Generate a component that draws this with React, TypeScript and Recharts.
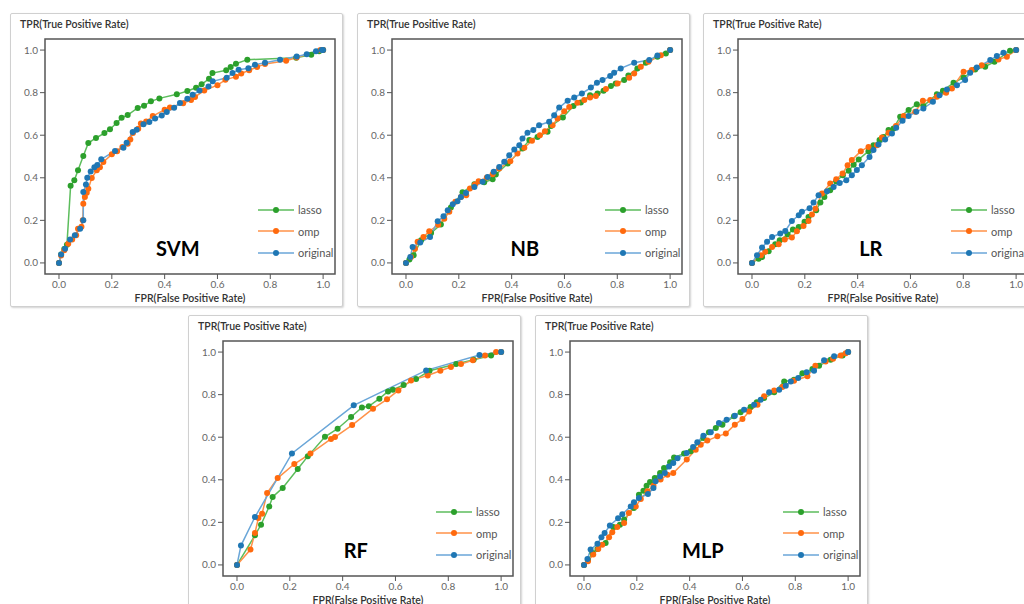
import { LineChart, Line, XAxis, YAxis, ReferenceArea, ReferenceDot, Legend } from "recharts";

type Pt = [number, number];

const FONT = "Lato, 'Noto Sans', sans-serif";

const ticks = [0, 0.2, 0.4, 0.6, 0.8, 1.0];
const seriesNames = ["lasso", "omp", "original"];
const dotColors: Record<string, string> = { lasso: "#2ca02c", omp: "#ff6a0e", original: "#1f77b4" };
const lineColors: Record<string, string> = { lasso: "#5cbd5c", omp: "#ff9248", original: "#6aa6d8" };

// ---- SVM ----
const svmLasso: Pt[] = [
  [0, 0], [0.008, 0.04], [0.02, 0.065], [0.03, 0.085], [0.044, 0.363], [0.058, 0.388], [0.072, 0.435],
  [0.092, 0.502], [0.111, 0.563], [0.14, 0.587], [0.172, 0.61], [0.193, 0.628], [0.218, 0.657], [0.237, 0.682],
  [0.26, 0.695], [0.298, 0.728], [0.322, 0.739], [0.348, 0.759], [0.38, 0.773], [0.446, 0.792], [0.486, 0.808],
  [0.519, 0.823], [0.54, 0.839], [0.568, 0.865], [0.581, 0.892], [0.633, 0.905], [0.65, 0.92], [0.67, 0.936],
  [0.713, 0.955], [0.898, 0.964], [0.955, 0.978], [0.985, 0.995], [1, 1],
];
const svmOmp: Pt[] = [
  [0, 0], [0.008, 0.035], [0.02, 0.06], [0.035, 0.09], [0.05, 0.11], [0.065, 0.13], [0.072, 0.16], [0.085, 0.17],
  [0.09, 0.2], [0.092, 0.278], [0.098, 0.31], [0.105, 0.33], [0.111, 0.349], [0.124, 0.399], [0.143, 0.435],
  [0.155, 0.45], [0.168, 0.474], [0.2, 0.51], [0.22, 0.525], [0.24, 0.545], [0.26, 0.56], [0.27, 0.58], [0.28, 0.61],
  [0.3, 0.63], [0.31, 0.655], [0.33, 0.665], [0.355, 0.69], [0.4, 0.72], [0.42, 0.73], [0.47, 0.75], [0.5, 0.765],
  [0.515, 0.78], [0.55, 0.81], [0.6, 0.835], [0.63, 0.86], [0.67, 0.875], [0.69, 0.89], [0.72, 0.905], [0.75, 0.92],
  [0.78, 0.935], [0.86, 0.95], [0.9, 0.965], [0.99, 1.0], [1, 1],
];
const svmOriginal: Pt[] = [
  [0, 0], [0.008, 0.04], [0.023, 0.067], [0.042, 0.11], [0.06, 0.13], [0.08, 0.16], [0.092, 0.2], [0.092, 0.333],
  [0.102, 0.368], [0.107, 0.4], [0.12, 0.43], [0.134, 0.45], [0.145, 0.46], [0.16, 0.487], [0.212, 0.526],
  [0.244, 0.541], [0.256, 0.565], [0.279, 0.615], [0.294, 0.626], [0.32, 0.651], [0.342, 0.662], [0.364, 0.678],
  [0.389, 0.693], [0.408, 0.709], [0.436, 0.729], [0.458, 0.751], [0.486, 0.771], [0.506, 0.79], [0.532, 0.81],
  [0.566, 0.829], [0.582, 0.853], [0.635, 0.87], [0.657, 0.892], [0.68, 0.908], [0.717, 0.915], [0.742, 0.931],
  [0.78, 0.94], [0.837, 0.955], [0.9, 0.97], [0.938, 0.98], [0.973, 0.995], [0.995, 1], [1, 1],
];

// ---- NB ----
const nbLasso: Pt[] = [
  [0, 0], [0.013, 0.016], [0.029, 0.036], [0.057, 0.107], [0.095, 0.141], [0.132, 0.18], [0.17, 0.26],
  [0.214, 0.332], [0.259, 0.37], [0.296, 0.379], [0.328, 0.393], [0.34, 0.415], [0.385, 0.467], [0.441, 0.538],
  [0.467, 0.577], [0.498, 0.592], [0.536, 0.616], [0.549, 0.643], [0.594, 0.683], [0.634, 0.737], [0.662, 0.754],
  [0.697, 0.788], [0.725, 0.796], [0.748, 0.809], [0.776, 0.831], [0.794, 0.843], [0.826, 0.859], [0.842, 0.881],
  [0.876, 0.914], [0.908, 0.94], [0.952, 0.969], [0.984, 0.984], [1, 1],
];
const nbOmp: Pt[] = [
  [0, 0], [0.019, 0.028], [0.034, 0.067], [0.044, 0.099], [0.066, 0.122], [0.088, 0.149], [0.122, 0.179],
  [0.145, 0.208], [0.164, 0.241], [0.187, 0.287], [0.208, 0.31], [0.228, 0.318], [0.242, 0.35], [0.261, 0.368],
  [0.275, 0.384], [0.306, 0.401], [0.328, 0.417], [0.353, 0.444], [0.395, 0.478], [0.422, 0.514], [0.448, 0.541],
  [0.477, 0.574], [0.507, 0.6], [0.526, 0.619], [0.555, 0.647], [0.574, 0.679], [0.599, 0.713], [0.618, 0.733],
  [0.649, 0.752], [0.675, 0.765], [0.697, 0.777], [0.719, 0.784], [0.757, 0.817], [0.801, 0.843], [0.845, 0.87],
  [0.864, 0.89], [0.889, 0.922], [0.918, 0.945], [0.965, 0.976], [1, 1],
];
const nbOriginal: Pt[] = [
  [0, 0], [0.016, 0.028], [0.025, 0.075], [0.054, 0.096], [0.091, 0.122], [0.12, 0.196], [0.142, 0.219],
  [0.158, 0.248], [0.177, 0.276], [0.195, 0.29], [0.208, 0.31], [0.227, 0.329], [0.259, 0.357], [0.29, 0.381],
  [0.309, 0.404], [0.332, 0.428], [0.353, 0.451], [0.372, 0.475], [0.391, 0.506], [0.41, 0.533], [0.429, 0.553],
  [0.441, 0.585], [0.46, 0.611], [0.482, 0.624], [0.504, 0.647], [0.542, 0.663], [0.561, 0.694], [0.58, 0.73],
  [0.612, 0.762], [0.637, 0.777], [0.666, 0.796], [0.7, 0.824], [0.723, 0.846], [0.744, 0.859], [0.773, 0.878],
  [0.788, 0.893], [0.813, 0.914], [0.864, 0.94], [0.921, 0.953], [0.952, 0.975], [1, 1],
];

// ---- LR ----
const lrLasso: Pt[] = [
  [0, 0], [0.025, 0.02], [0.038, 0.028], [0.063, 0.055], [0.088, 0.088], [0.105, 0.107], [0.135, 0.133],
  [0.155, 0.157], [0.177, 0.169], [0.199, 0.193], [0.214, 0.216], [0.243, 0.248], [0.259, 0.284], [0.274, 0.31],
  [0.296, 0.342], [0.319, 0.384], [0.344, 0.412], [0.366, 0.433], [0.385, 0.461], [0.404, 0.486], [0.441, 0.525],
  [0.46, 0.553], [0.483, 0.577], [0.498, 0.592], [0.517, 0.624], [0.536, 0.632], [0.561, 0.687], [0.593, 0.718],
  [0.624, 0.746], [0.649, 0.737], [0.7, 0.793], [0.723, 0.809], [0.763, 0.846], [0.801, 0.871], [0.845, 0.909],
  [0.883, 0.922], [0.918, 0.945], [0.977, 0.997], [1, 1],
];
const lrOmp: Pt[] = [
  [0, 0], [0.034, 0.036], [0.05, 0.052], [0.076, 0.075], [0.101, 0.088], [0.124, 0.11], [0.151, 0.119],
  [0.17, 0.149], [0.195, 0.174], [0.214, 0.197], [0.227, 0.227], [0.24, 0.255], [0.265, 0.326], [0.296, 0.373],
  [0.319, 0.393], [0.343, 0.42], [0.362, 0.459], [0.378, 0.483], [0.412, 0.525], [0.441, 0.545], [0.473, 0.553],
  [0.492, 0.589], [0.517, 0.611], [0.545, 0.643], [0.574, 0.69], [0.618, 0.71], [0.647, 0.762], [0.675, 0.765],
  [0.7, 0.781], [0.735, 0.799], [0.757, 0.82], [0.801, 0.898], [0.832, 0.906], [0.87, 0.929], [0.933, 0.956],
  [0.965, 0.969], [1, 1],
];
const lrOriginal: Pt[] = [
  [0, 0], [0.019, 0.036], [0.038, 0.072], [0.057, 0.099], [0.076, 0.122], [0.107, 0.138], [0.126, 0.15],
  [0.151, 0.197], [0.177, 0.224], [0.189, 0.24], [0.218, 0.257], [0.233, 0.284], [0.252, 0.318], [0.284, 0.337],
  [0.309, 0.357], [0.332, 0.376], [0.357, 0.389], [0.378, 0.412], [0.397, 0.436], [0.416, 0.459], [0.445, 0.498],
  [0.46, 0.53], [0.479, 0.556], [0.504, 0.58], [0.53, 0.608], [0.546, 0.635], [0.57, 0.668], [0.593, 0.69],
  [0.622, 0.71], [0.649, 0.726], [0.685, 0.757], [0.71, 0.788], [0.738, 0.815], [0.776, 0.835], [0.807, 0.859],
  [0.826, 0.893], [0.851, 0.918], [0.902, 0.953], [0.927, 0.972], [0.952, 0.987], [1, 1],
];

// ---- RF ----
const rfLasso: Pt[] = [
  [0, 0], [0.068, 0.139], [0.091, 0.189], [0.122, 0.275], [0.135, 0.319], [0.173, 0.362], [0.23, 0.451],
  [0.268, 0.51], [0.333, 0.602], [0.381, 0.64], [0.432, 0.695], [0.473, 0.74], [0.499, 0.745], [0.539, 0.781],
  [0.572, 0.815], [0.59, 0.823], [0.631, 0.845], [0.678, 0.873], [0.729, 0.912], [0.83, 0.944], [0.896, 0.964],
  [0.962, 0.984], [1, 1],
];
const rfOmp: Pt[] = [
  [0, 0], [0.051, 0.072], [0.068, 0.15], [0.081, 0.22], [0.095, 0.241], [0.114, 0.338], [0.154, 0.408],
  [0.217, 0.474], [0.278, 0.523], [0.356, 0.592], [0.371, 0.601], [0.436, 0.657], [0.515, 0.734], [0.568, 0.778],
  [0.611, 0.82], [0.659, 0.867], [0.722, 0.89], [0.77, 0.912], [0.81, 0.93], [0.848, 0.944], [0.893, 0.961],
  [0.939, 0.984], [0.981, 1.0], [1, 1],
];
const rfOriginal: Pt[] = [
  [0, 0], [0.015, 0.091], [0.068, 0.225], [0.208, 0.524], [0.442, 0.75], [0.716, 0.914], [0.918, 0.986], [1, 1],
];

// ---- MLP ----
const mlpLasso: Pt[] = [
  [0, 0], [0.015, 0.022], [0.032, 0.056], [0.051, 0.075], [0.082, 0.103], [0.111, 0.178], [0.136, 0.189],
  [0.152, 0.213], [0.189, 0.268], [0.208, 0.33], [0.225, 0.349], [0.237, 0.372], [0.25, 0.39], [0.268, 0.408],
  [0.288, 0.432], [0.303, 0.455], [0.326, 0.482], [0.341, 0.505], [0.379, 0.523], [0.404, 0.534], [0.452, 0.596],
  [0.473, 0.623], [0.499, 0.643], [0.524, 0.659], [0.568, 0.698], [0.593, 0.717], [0.631, 0.742], [0.654, 0.764],
  [0.682, 0.784], [0.72, 0.811], [0.758, 0.862], [0.795, 0.87], [0.827, 0.901], [0.865, 0.92], [0.89, 0.936],
  [0.934, 0.964], [0.979, 0.984], [1, 1],
];
const mlpOmp: Pt[] = [
  [0, 0], [0.015, 0.017], [0.035, 0.049], [0.054, 0.075], [0.069, 0.095], [0.095, 0.13], [0.107, 0.153],
  [0.126, 0.178], [0.152, 0.197], [0.17, 0.244], [0.196, 0.275], [0.215, 0.31], [0.24, 0.346], [0.263, 0.372],
  [0.29, 0.401], [0.316, 0.424], [0.338, 0.432], [0.389, 0.495], [0.423, 0.541], [0.442, 0.565], [0.467, 0.584],
  [0.505, 0.604], [0.537, 0.617], [0.571, 0.659], [0.6, 0.685], [0.625, 0.721], [0.657, 0.753], [0.682, 0.792],
  [0.72, 0.82], [0.751, 0.836], [0.795, 0.865], [0.846, 0.886], [0.876, 0.936], [0.915, 0.956], [0.943, 0.969],
  [0.972, 0.984], [0.991, 0.995], [1, 1],
];
const mlpOriginal: Pt[] = [
  [0, 0], [0.013, 0.028], [0.025, 0.072], [0.051, 0.099], [0.066, 0.13], [0.078, 0.15], [0.098, 0.185],
  [0.129, 0.219], [0.145, 0.238], [0.177, 0.275], [0.189, 0.294], [0.208, 0.315], [0.242, 0.333], [0.263, 0.361],
  [0.271, 0.393], [0.288, 0.416], [0.306, 0.432], [0.322, 0.463], [0.338, 0.479], [0.354, 0.501], [0.389, 0.526],
  [0.413, 0.554], [0.429, 0.576], [0.452, 0.607], [0.48, 0.623], [0.511, 0.667], [0.54, 0.682], [0.571, 0.701],
  [0.606, 0.729], [0.644, 0.753], [0.669, 0.776], [0.701, 0.811], [0.739, 0.823], [0.764, 0.842], [0.783, 0.862],
  [0.811, 0.878], [0.843, 0.905], [0.871, 0.912], [0.909, 0.961], [0.947, 0.98], [1, 1],
];

const toRows = (pts: Pt[]) => pts.map(([fpr, tpr]) => ({ fpr, tpr }));
const fmt = (v: number) => v.toFixed(1);

const renderLegend = () => (
  <div style={{ fontFamily: FONT }}>
    {seriesNames.map((name) => (
      <div key={name} style={{ display: "flex", alignItems: "center", height: 21.5 }}>
        <svg width={36} height={8}>
          <line x1={0} y1={4} x2={36} y2={4} stroke={lineColors[name]} strokeWidth={1.5} />
          <circle cx={18} cy={4} r={3} fill={dotColors[name]} />
        </svg>
        <span style={{ marginLeft: 4, fontSize: 11, color: "#555" }}>{name}</span>
      </div>
    ))}
  </div>
);

type PanelProps = {
  title: string;
  curves: Record<string, Pt[]>;
  left: number;
  top: number;
};

function RocPanel({ title, curves, left, top }: PanelProps) {
  return (
    <div
      style={{
        position: "absolute",
        left,
        top,
        width: 331,
        height: 292,
        border: "1px solid #d0d0d0",
        boxShadow: "1px 1px 2px rgba(0,0,0,0.18)",
        borderRadius: 2,
        background: "#fff",
        fontFamily: FONT,
      }}
    >
      <div style={{ position: "absolute", left: 9, top: 4, fontSize: 10.5, fontWeight: 600, color: "#333" }}>
        TPR(True Positive Rate)
      </div>
      <LineChart width={331} height={292} margin={{ top: 25, right: 7, bottom: 0, left: 5 }}>
        <XAxis
          type="number"
          dataKey="fpr"
          domain={[-0.053, 1.045]}
          ticks={ticks}
          allowDataOverflow
          tickFormatter={fmt}
          axisLine={false}
          tickLine={{ stroke: "#555" }}
          tickSize={5}
          tick={{ fill: "#666", fontSize: 10, fontFamily: FONT }}
          height={32}
          label={{
            value: "FPR(False Positive Rate)",
            position: "insideBottom",
            offset: 4,
            fill: "#333",
            fontSize: 10.5,
            fontWeight: 600,
            fontFamily: FONT,
          }}
        />
        <YAxis
          type="number"
          domain={[-0.052, 1.052]}
          ticks={ticks}
          allowDataOverflow
          tickFormatter={fmt}
          axisLine={false}
          tickLine={{ stroke: "#555" }}
          tickSize={5}
          tick={{ fill: "#666", fontSize: 10, fontFamily: FONT }}
          width={29}
        />
        <ReferenceArea
          x1={-0.053}
          x2={1.045}
          y1={-0.052}
          y2={1.052}
          fill="none"
          stroke="#555"
          strokeWidth={1.5}
          fillOpacity={0}
        />
        {seriesNames.map((name) => (
          <Line
            key={name}
            data={toRows(curves[name])}
            dataKey="tpr"
            name={name}
            type="linear"
            stroke={lineColors[name]}
            strokeWidth={1.5}
            dot={{ r: 3, fill: dotColors[name], stroke: "none" }}
            isAnimationActive={false}
          />
        ))}
        <ReferenceDot
          x={0.45}
          y={0.065}
          r={0}
          fill="none"
          stroke="none"
          label={{ value: title, position: "center", fontSize: 20, fontWeight: 700, fill: "#000", fontFamily: FONT }}
        />
        <Legend
          layout="vertical"
          align="center"
          verticalAlign="middle"
          wrapperStyle={{ left: 247, top: 185, width: 84 }}
          content={renderLegend}
        />
      </LineChart>
    </div>
  );
}

export default function App() {
  return (
    <div
      style={{
        position: "fixed",
        left: 0,
        top: 0,
        width: 1024,
        height: 604,
        background: "#fff",
        overflow: "hidden",
      }}
    >
      <RocPanel title="SVM" curves={{ lasso: svmLasso, omp: svmOmp, original: svmOriginal }} left={10} top={13} />
      <RocPanel title="NB" curves={{ lasso: nbLasso, omp: nbOmp, original: nbOriginal }} left={357} top={13} />
      <RocPanel title="LR" curves={{ lasso: lrLasso, omp: lrOmp, original: lrOriginal }} left={703} top={13} />
      <RocPanel title="RF" curves={{ lasso: rfLasso, omp: rfOmp, original: rfOriginal }} left={188} top={315} />
      <RocPanel title="MLP" curves={{ lasso: mlpLasso, omp: mlpOmp, original: mlpOriginal }} left={535} top={315} />
    </div>
  );
}
